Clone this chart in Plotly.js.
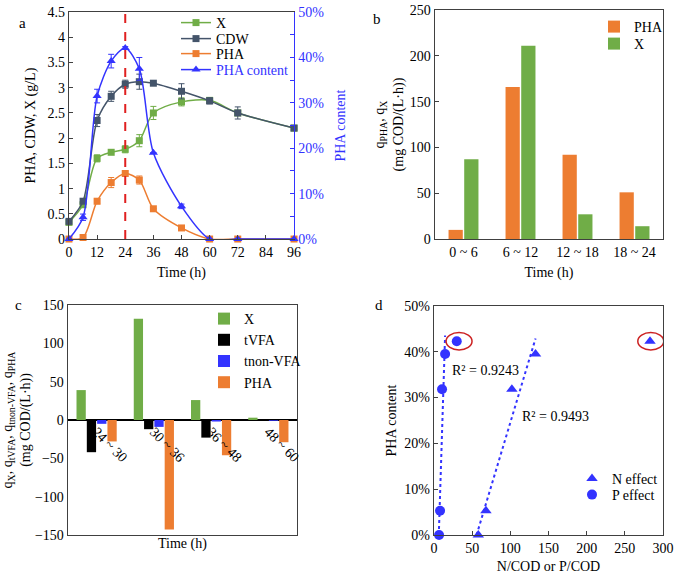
<!DOCTYPE html>
<html>
<head>
<meta charset="utf-8">
<script src="https://cdn.plot.ly/plotly-3.0.1.min.js"></script>
<style>html,body{margin:0;padding:0;background:#fff;}#chart{width:675px;height:576px;}</style>
</head>
<body>
<div id="chart"></div>
<script>
// ---------- Panel a data ----------
const timeA = [0, 6, 12, 18, 24, 30, 36, 48, 60, 72, 96];
const xBiomass = [0.33, 0.68, 1.6, 1.72, 1.78, 1.95, 2.5, 2.72, 2.75, 2.5, 2.2];
const xBiomassErr = [0, 0, 0.07, 0.03, 0.07, 0.12, 0.13, 0.08, 0, 0, 0];
const cdw = [0.35, 0.75, 2.35, 2.83, 3.07, 3.12, 3.09, 2.93, 2.74, 2.5, 2.2];
const cdwErr = [0, 0, 0.12, 0.1, 0.08, 0.15, 0, 0.15, 0.06, 0.12, 0];
const pha = [0, 0.03, 0.75, 1.12, 1.3, 1.17, 0.6, 0.22, 0, 0, 0];
const phaErr = [0, 0, 0.05, 0.1, 0.05, 0.08, 0, 0, 0, 0, 0];
const phaContent = [0, 0.048, 0.315, 0.392, 0.421, 0.375, 0.19, 0.072, 0, 0, 0];
const phaContentErr = [0, 0.007, 0.015, 0.015, 0.003, 0.025, 0, 0.005, 0, 0, 0];
const markerTime = 24;

// ---------- Panel b data ----------
const catB = ['0 ~ 6', '6 ~ 12', '12 ~ 18', '18 ~ 24'];
const qPhaB = [10, 166, 92, 51];
const qXB = [87, 211, 27, 14];

// ---------- Panel c data ----------
const catC = ['24 ~ 30', '30 ~ 36', '36 ~ 48', '48 ~ 60'];
const qXC = [39, 132, 26, 3];
const qTVFA = [-42, -12, -23, 0];
const qTnonVFA = [-5, -9, -2, -1];
const qPhaC = [-28, -143, -46, -29];

// ---------- Panel d data ----------
const nRatio = [58, 68, 102, 133, 283];
const nContent = [0, 0.053, 0.318, 0.395, 0.423];
const pRatio = [6.6, 7.9, 10.5, 14.5, 29.8];
const pContent = [0, 0.053, 0.318, 0.395, 0.423];
const r2Labels = ['R² = 0.9243', 'R² = 0.9493'];

// ---------- colours ----------
const GREEN = '#70AD47', GREY = '#44546A', ORANGE = '#ED7D31', BLUE = '#3333FF', AX = '#404040';
const FONT = '"Liberation Serif"';
const FS = 14;

// linear fit on all but the circled outlier (last point)
function fit(xs, ys) {
  const n = xs.length;
  const mx = xs.reduce((a, b) => a + b, 0) / n, my = ys.reduce((a, b) => a + b, 0) / n;
  let sxx = 0, sxy = 0;
  for (let i = 0; i < n; i++) { sxx += (xs[i] - mx) ** 2; sxy += (xs[i] - mx) * (ys[i] - my); }
  const m = sxy / sxx, b = my - m * mx;
  const x0 = -b / m, x1 = Math.max(...xs);
  return { x: [x0, x1], y: [0, m * x1 + b] };
}
const nFit = fit(nRatio.slice(0, 4), nContent.slice(0, 4));
const pFit = fit(pRatio.slice(0, 4), pContent.slice(0, 4));

function eb(arr, color) {
  return { type: 'data', array: arr, visible: true, color: color, thickness: 1, width: 3 };
}

const traces = [
  // panel a
  { x: timeA, y: xBiomass, name: 'X', type: 'scatter', mode: 'lines+markers', xaxis: 'x', yaxis: 'y',
    line: { color: GREEN, width: 1.5, shape: 'spline', smoothing: 0.8 }, marker: { symbol: 'square', size: 7, color: GREEN },
    error_y: eb(xBiomassErr, GREEN), legend: 'legend', cliponaxis: false },
  { x: timeA, y: cdw, name: 'CDW', type: 'scatter', mode: 'lines+markers', xaxis: 'x', yaxis: 'y',
    line: { color: GREY, width: 1.5, shape: 'spline', smoothing: 0.8 }, marker: { symbol: 'square', size: 7, color: GREY },
    error_y: eb(cdwErr, GREY), legend: 'legend5', cliponaxis: false },
  { x: timeA, y: pha, name: 'PHA', type: 'scatter', mode: 'lines+markers', xaxis: 'x', yaxis: 'y',
    line: { color: ORANGE, width: 1.5, shape: 'spline', smoothing: 0.8 }, marker: { symbol: 'square', size: 7, color: ORANGE },
    error_y: eb(phaErr, ORANGE), legend: 'legend6', cliponaxis: false },
  { x: timeA, y: phaContent, name: '<span style="color:#3333FF">PHA content</span>', type: 'scatter', mode: 'lines+markers', xaxis: 'x', yaxis: 'y2',
    line: { color: BLUE, width: 1.5, shape: 'spline', smoothing: 0.8 }, marker: { symbol: 'triangle-up', size: 8, color: BLUE },
    error_y: eb(phaContentErr, BLUE), legend: 'legend7', cliponaxis: false },
  // panel b
  { x: catB, y: qPhaB, name: 'PHA', type: 'bar', xaxis: 'x2', yaxis: 'y3', marker: { color: ORANGE },
    width: 0.25, offset: -0.262, legend: 'legend2' },
  { x: catB, y: qXB, name: 'X', type: 'bar', xaxis: 'x2', yaxis: 'y3', marker: { color: GREEN },
    width: 0.25, offset: 0.013, legend: 'legend8' },
  // panel c
  { x: catC, y: qXC, name: 'X', type: 'bar', xaxis: 'x3', yaxis: 'y4', marker: { color: GREEN }, legend: 'legend3' },
  { x: catC, y: qTVFA, name: 'tVFA', type: 'bar', xaxis: 'x3', yaxis: 'y4', marker: { color: '#000000' }, legend: 'legend3' },
  { x: catC, y: qTnonVFA, name: 'tnon-VFA', type: 'bar', xaxis: 'x3', yaxis: 'y4', marker: { color: BLUE }, legend: 'legend3' },
  { x: catC, y: qPhaC, name: 'PHA', type: 'bar', xaxis: 'x3', yaxis: 'y4', marker: { color: ORANGE }, legend: 'legend3' },
  // invisible helper so the zero-line category labels get drawn
  { x: catC, y: qXC, type: 'scatter', mode: 'markers', marker: { opacity: 0 }, xaxis: 'x4', yaxis: 'y4',
    showlegend: false, hoverinfo: 'skip' },
  // panel d
  { x: nFit.x, y: nFit.y, type: 'scatter', mode: 'lines', xaxis: 'x5', yaxis: 'y5', showlegend: false,
    line: { color: BLUE, width: 2, dash: 'dot' }, hoverinfo: 'skip' },
  { x: pFit.x, y: pFit.y, type: 'scatter', mode: 'lines', xaxis: 'x5', yaxis: 'y5', showlegend: false,
    line: { color: BLUE, width: 2, dash: 'dot' }, hoverinfo: 'skip' },
  { x: nRatio, y: nContent, name: 'N effect', type: 'scatter', mode: 'markers', xaxis: 'x5', yaxis: 'y5',
    marker: { symbol: 'triangle-up', size: 10, color: BLUE }, legend: 'legend4', cliponaxis: false },
  { x: pRatio, y: pContent, name: 'P effect', type: 'scatter', mode: 'markers', xaxis: 'x5', yaxis: 'y5',
    marker: { symbol: 'circle', size: 10, color: BLUE }, legend: 'legend9', cliponaxis: false }
];

const domA = { x: [0.1022, 0.4356], y: [0.585, 0.979] };
const domB = { x: [0.6444, 0.9822], y: [0.585, 0.9826] };
const domC = { x: [0.1007, 0.44], y: [0.0712, 0.4705] };
const domD = { x: [0.643, 0.9822], y: [0.0712, 0.4688] };
const yRangeC = [-150, 150];
const zeroPosC = domC.y[0] + (0 - yRangeC[0]) / (yRangeC[1] - yRangeC[0]) * (domC.y[1] - domC.y[0]);

const TF = { family: FONT, size: FS, color: '#000' };
const baseAx = { showgrid: false, zeroline: false, showline: true, linecolor: AX, linewidth: 1.3,
  ticks: 'inside', ticklen: 4, tickcolor: AX, automargin: false, tickfont: TF };

// single-entry legends placed by pixel (x = left of legend box, y = centre of entry)
function lg(px, py) {
  return { bgcolor: 'rgba(0,0,0,0)', font: { size: FS, family: FONT, color: '#000' },
    xanchor: 'left', yanchor: 'middle', itemwidth: 30, tracegroupgap: 0, x: px / 675, y: 1 - py / 576 };
}

function ttl(text, standoff, extra) {
  return { text: text, standoff: standoff, font: Object.assign({ family: FONT, size: FS, color: '#000' }, extra || {}) };
}

const last = nRatio.length - 1;
const layout = {
  width: 675, height: 576,
  margin: { l: 0, r: 0, t: 0, b: 0 },
  paper_bgcolor: '#fff', plot_bgcolor: 'rgba(0,0,0,0)',
  font: { family: FONT, size: FS, color: '#000' },
  barmode: 'group', bargap: 0.28, bargroupgap: 0.1,
  showlegend: true,
  xaxis: Object.assign({}, baseAx, { domain: domA.x, anchor: 'y', range: [0, 96], dtick: 12, mirror: true,
    title: ttl('Time (h)', 8) }),
  yaxis: Object.assign({}, baseAx, { domain: domA.y, anchor: 'x', range: [0, 4.5], dtick: 0.5,
    title: ttl('PHA, CDW, X (g/L)', 8) }),
  yaxis2: Object.assign({}, baseAx, { overlaying: 'y', side: 'right', anchor: 'x', range: [0, 0.5], dtick: 0.1,
    tickformat: '.0%', linecolor: BLUE, tickcolor: BLUE, tickfont: { family: FONT, size: FS, color: BLUE },
    minor: { dtick: 0.05, ticks: 'inside', ticklen: 4, tickcolor: BLUE },
    title: ttl('PHA content', 12, { color: BLUE }) }),
  xaxis2: Object.assign({}, baseAx, { domain: domB.x, anchor: 'y3', type: 'category', mirror: true, ticks: '',
    range: [-0.5, 3.5], title: ttl('Time (h)', 8) }),
  yaxis3: Object.assign({}, baseAx, { domain: domB.y, anchor: 'x2', range: [0, 250], dtick: 50, mirror: true,
    title: ttl('q<sub>PHA</sub>, q<sub>X</sub><br>(mg COD/(L·h))', 3) }),
  xaxis3: Object.assign({}, baseAx, { domain: domC.x, anchor: 'y4', type: 'category', mirror: true, ticks: '',
    showticklabels: false, range: [-0.5, 3.5], title: ttl('Time (h)', 3) }),
  yaxis4: Object.assign({}, baseAx, { domain: domC.y, anchor: 'x3', range: yRangeC, dtick: 50, mirror: true, ticks: '',
    zeroline: true, zerolinecolor: '#000', zerolinewidth: 1.5,
    title: ttl('q<sub>X</sub>, q<sub>tVFA</sub>, q<sub>tnon-VFA</sub>, q<sub>PHA</sub><br>(mg COD/(L·h))', 12) }),
  xaxis4: Object.assign({}, baseAx, { overlaying: 'x3', anchor: 'free', position: zeroPosC, type: 'category',
    range: [-0.5, 3.5], showline: false, ticks: '', tickangle: 45 }),
  xaxis5: Object.assign({}, baseAx, { domain: domD.x, anchor: 'y5', range: [0, 300], dtick: 50, mirror: true,
    title: ttl('N/COD or P/COD', 6) }),
  yaxis5: Object.assign({}, baseAx, { domain: domD.y, anchor: 'x5', range: [0, 0.5], dtick: 0.1, tickformat: '.0%', mirror: true,
    title: ttl('PHA content', 4) }),
  // panel a legend entries
  legend: lg(176, 23), legend5: lg(176, 39), legend6: lg(176, 54), legend7: lg(176, 70),
  // panel b legend entries
  legend2: lg(594, 27), legend8: lg(594, 44),
  // panel c legend (one box)
  legend3: { bgcolor: 'rgba(0,0,0,0)', font: { size: FS, family: FONT, color: '#000' },
    xanchor: 'left', yanchor: 'top', itemwidth: 30, tracegroupgap: 0, x: 204 / 675, y: 1 - 303 / 576 },
  // panel d legend entries
  legend4: lg(572, 479), legend9: lg(572, 495),
  shapes: [
    { type: 'line', xref: 'x', yref: 'y domain', x0: markerTime, x1: markerTime, y0: 0, y1: 1,
      line: { color: '#E02020', width: 2, dash: 'dash' } },
    { type: 'circle', xref: 'x5', yref: 'y5', x0: pRatio[last] - 14, x1: pRatio[last] + 20,
      y0: pContent[last] - 0.019, y1: pContent[last] + 0.019, line: { color: '#CC2222', width: 1.5 } },
    { type: 'circle', xref: 'x5', yref: 'y5', x0: nRatio[last] - 16, x1: nRatio[last] + 18,
      y0: nContent[last] - 0.019, y1: nContent[last] + 0.019, line: { color: '#CC2222', width: 1.5 } }
  ],
  annotations: [
    { text: 'a', xref: 'paper', yref: 'paper', x: 17 / 675, y: 1 - 13 / 576, showarrow: false, font: { family: FONT, size: 15 } },
    { text: 'b', xref: 'paper', yref: 'paper', x: 377 / 675, y: 1 - 9 / 576, showarrow: false, font: { family: FONT, size: 15 } },
    { text: 'c', xref: 'paper', yref: 'paper', x: 13 / 675, y: 1 - 305 / 576, showarrow: false, font: { family: FONT, size: 15 } },
    { text: 'd', xref: 'paper', yref: 'paper', x: 379 / 675, y: 1 - 305 / 576, showarrow: false, font: { family: FONT, size: 15 } },
    { text: r2Labels[0], xref: 'x5', yref: 'y5', x: 21, y: 0.36, xanchor: 'left', showarrow: false, font: { family: FONT, size: FS } },
    { text: r2Labels[1], xref: 'x5', yref: 'y5', x: 112, y: 0.258, xanchor: 'left', showarrow: false, font: { family: FONT, size: FS } }
  ]
};

Plotly.newPlot('chart', traces, layout, { displayModeBar: false, staticPlot: true });
</script>
</body>
</html>
